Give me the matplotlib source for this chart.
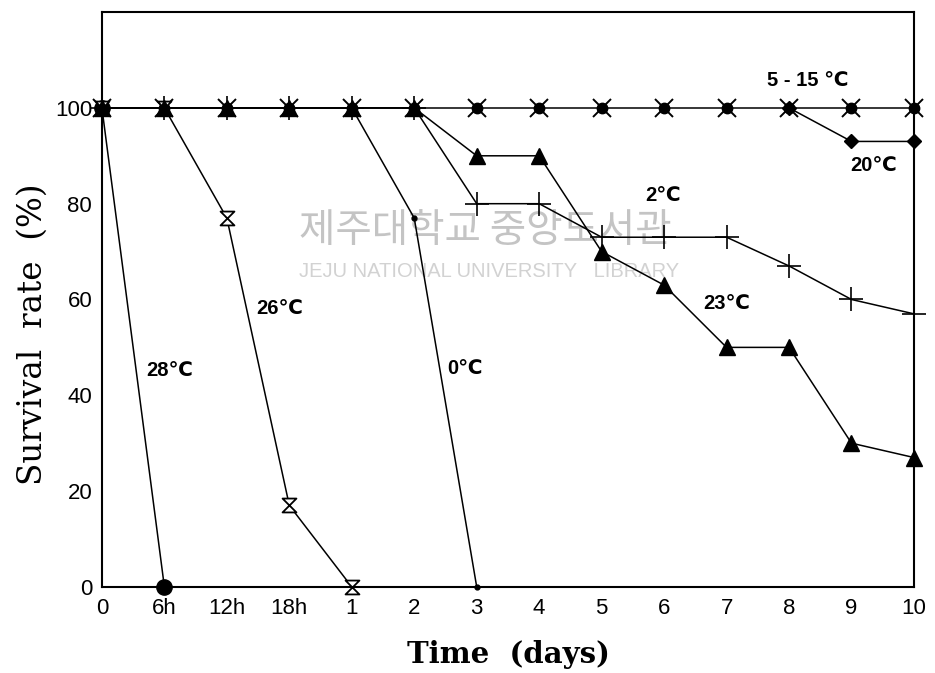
import numpy as np
import matplotlib.pyplot as plt
from matplotlib.path import Path

# --- данные: ось x категориальная (0, 6ч, 12ч, 18ч, 1..10 суток) ---
x_labels = ['0', '6h', '12h', '18h', '1', '2', '3', '4', '5', '6', '7', '8', '9', '10']
pos = np.arange(len(x_labels))

s_5_15 = [100] * 14
s_28 = [100, 0]
s_26 = [100, 100, 77, 17, 0]
s_0 = [100, 100, 100, 100, 100, 77, 0]
s_2 = [100, 100, 100, 100, 100, 100, 80, 80, 73, 73, 73, 67, 60, 57]
s_23 = [100, 100, 100, 100, 100, 100, 90, 90, 70, 63, 50, 50, 30, 27]
s_20 = [100, 93, 93]

labels = ['5 - 15 \u2103', '20\u2103', '2\u2103', '23\u2103', '26\u2103', '28\u2103', '0\u2103']
label_xy = [(11.3, 105.8), (12.35, 88), (8.98, 81.8), (10.0, 59.2), (2.85, 58.1), (1.09, 45.2), (5.81, 45.6)]

hourglass = Path([(-1, 1), (1, 1), (-1, -1), (1, -1), (-1, 1)],
                 [Path.MOVETO, Path.LINETO, Path.LINETO, Path.LINETO, Path.CLOSEPOLY])

fig = plt.figure(figsize=(9.35, 6.73), dpi=100)
ax = fig.add_axes([0.109, 0.128, 0.8685, 0.854])

lw = 1.1
kw = dict(lw=lw, clip_on=False, zorder=3)
ax.plot(pos, s_5_15, 'k-', marker='x', ms=13, mew=1.4, **kw)
ax.plot(pos, s_5_15, 'ko', ms=7.5, ls='none', clip_on=False, zorder=3)
ax.plot(pos[:2], s_28, 'k-', marker='o', ms=11, **kw)
ax.plot(pos[:5], s_26, 'k-', marker=hourglass, ms=10, mfc='white', mew=1.3, **kw)
ax.plot(pos[:7], s_0, 'k-', marker='o', ms=3.5, **kw)
ax.plot(pos, s_2, 'k-', marker='+', ms=17, mew=1.2, **kw)
ax.plot(pos, s_23, 'k-', marker='^', ms=11, **kw)
ax.plot(pos[11:], s_20, 'k-', marker='D', ms=7, **kw)

for t, (xx, yy) in zip(labels, label_xy):
    ax.text(xx, yy, t, fontsize=14.5, fontweight='bold',
            family=['Liberation Sans', 'DejaVu Sans', 'Noto Sans CJK KR'],
            ha='center', va='center', zorder=4)

# водяной знак библиотеки
ax.text(3.15, 74.3, '제주대학교 중앙도서관', fontsize=28.5, color='#c4c4c4',
        family=['Noto Sans CJK KR', 'DejaVu Sans'], va='center', ha='left', zorder=1)
ax.text(3.15, 65.8, 'JEJU NATIONAL UNIVERSITY   LIBRARY', fontsize=14.5, color='#d2d2d2',
        family='Liberation Sans', va='center', ha='left', zorder=1)

ax.set_xlim(0, 13)
ax.set_ylim(0, 120)
ax.set_xticks(pos)
ax.set_xticklabels(x_labels)
ax.set_yticks([0, 20, 40, 60, 80, 100])
ax.tick_params(length=0, labelsize=16)
ax.tick_params(axis='x', pad=8)
ax.tick_params(axis='y', pad=7)
for lab in ax.get_xticklabels() + ax.get_yticklabels():
    lab.set_family('Liberation Sans')
for sp in ax.spines.values():
    sp.set_linewidth(1.5)

ax.set_xlabel('Time  (days)', fontsize=21, fontweight='bold', family='DejaVu Serif', labelpad=15)
ax.set_ylabel('Survival  rate  (%)', fontsize=23.5, family='DejaVu Serif')
ax.yaxis.set_label_coords(-0.066, 0.44)

fig.savefig('out.png', dpi=100)
